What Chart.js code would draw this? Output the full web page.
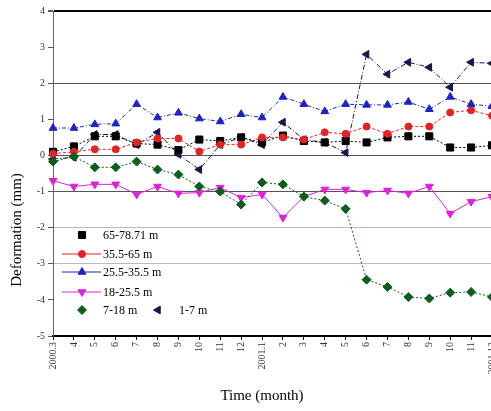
<!DOCTYPE html>
<html>
<head>
<meta charset="utf-8">
<script src="https://cdn.jsdelivr.net/npm/chart.js@4.4.1/dist/chart.umd.min.js"></script>
<style>
  html, body { margin: 0; padding: 0; background: #fff; overflow: hidden; }
  #wrap { width: 491px; height: 411px; overflow: hidden; }
</style>
</head>
<body>
<div id="wrap"><canvas id="chart" width="506" height="411"></canvas></div>
<script>
// months (x categories)
const months = ['2000.3','4','5','6','7','8','9','10','11','12',
  '2001.1','2','3','4','5','6','7','8','9','10','11','2001.12'];

// deformation (mm) per depth range
const d65_78 = [0.1, 0.25, 0.53, 0.53, 0.33, 0.3, 0.15, 0.44, 0.4, 0.5, 0.36,
  0.55, 0.4, 0.36, 0.4, 0.36, 0.5, 0.53, 0.53, 0.22, 0.22, 0.28];
const d35_65 = [0.05, 0.1, 0.17, 0.17, 0.36, 0.47, 0.47, 0.11, 0.3, 0.3, 0.5,
  0.5, 0.44, 0.64, 0.6, 0.8, 0.6, 0.8, 0.8, 1.19, 1.25, 1.1];
const d25_35 = [0.76, 0.76, 0.86, 0.88, 1.42, 1.05, 1.18, 1.02, 0.94, 1.14, 1.05,
  1.62, 1.42, 1.22, 1.42, 1.4, 1.4, 1.48, 1.28, 1.62, 1.42, 1.36];
const d18_25 = [-0.7, -0.86, -0.8, -0.8, -1.08, -0.86, -1.05, -1.03, -0.89, -1.17, -1.08,
  -1.72, -1.14, -0.94, -0.94, -1.03, -0.97, -1.05, -0.86, -1.61, -1.28, -1.14];
const d7_18 = [-0.17, -0.03, -0.33, -0.33, -0.17, -0.39, -0.53, -0.86, -1.0, -1.36, -0.75,
  -0.8, -1.14, -1.25, -1.48, -3.44, -3.64, -3.92, -3.96, -3.8, -3.78, -3.92];
const d1_7 = [-0.1, -0.05, 0.58, 0.58, 0.3, 0.64, 0.03, -0.39, 0.3, 0.5, 0.3,
  0.92, 0.44, 0.36, 0.08, 2.8, 2.25, 2.58, 2.44, 1.89, 2.58, 2.55];

const seriesNames = ['65-78.71 m', '35.5-65 m', '25.5-35.5 m', '18-25.5 m', '7-18 m', '1-7 m'];
const yTicks = [4, 3, 2, 1, 0, -1, -2, -3, -4, -5];

const FONT = "'Liberation Serif', 'DejaVu Serif', serif";

const mk = (label, data, color, style, rot, radius, dash) => ({
  label, data,
  borderColor: color,
  backgroundColor: color,
  pointStyle: style,
  pointRotation: rot,
  pointRadius: radius,
  pointBorderWidth: 1,
  borderWidth: 1,
  borderDash: dash,
  tension: 0
});

const datasets = [
  mk(seriesNames[4], d7_18, '#0b5e1c', 'rectRot', 0, 4.5, [2, 2]),
  mk(seriesNames[3], d18_25, '#e020d8', 'triangle', 180, 4.5, []),
  mk(seriesNames[2], d25_35, '#1f22c8', 'triangle', 0, 4.5, [4, 2, 1, 2]),
  mk(seriesNames[1], d35_65, '#e52222', 'circle', 0, 3.5, [3, 2]),
  mk(seriesNames[0], d65_78, '#000000', 'rect', 0, 5, [2, 2]),
  mk(seriesNames[5], d1_7, '#161650', 'triangle', 270, 4.5, [5, 2, 1, 2])
];

// legend rows (drawn inside the plot, like the original)
const legendItems = [
  { name: seriesNames[0], ds: 4, x: 82, y: 235, line: false },
  { name: seriesNames[1], ds: 3, x: 82, y: 254, line: true },
  { name: seriesNames[2], ds: 2, x: 82, y: 272, line: true },
  { name: seriesNames[3], ds: 1, x: 82, y: 292, line: true },
  { name: seriesNames[4], ds: 0, x: 82, y: 310, line: false },
  { name: seriesNames[5], ds: 5, x: 158, y: 310, line: false }
];

const gridColor = v => {
  if (v === 4) return '#000';
  if (v === 2 || v === 0 || v === -1) return '#555';
  if (v === -2 || v === -3) return '#bbb';
  return 'rgba(0,0,0,0)';
};

const extras = {
  id: 'extras',
  afterDraw(chart) {
    const ctx = chart.ctx;
    ctx.save();
    ctx.fillStyle = '#000';
    ctx.font = '15px ' + FONT;
    ctx.textAlign = 'center';
    ctx.textBaseline = 'middle';
    ctx.save();
    ctx.translate(17, 230);
    ctx.rotate(-Math.PI / 2);
    ctx.fillText('Deformation (mm)', 0, 0);
    ctx.restore();
    ctx.fillText('Time (month)', 262, 396);

    ctx.font = '12px ' + FONT;
    ctx.textAlign = 'left';
    for (const it of legendItems) {
      const ds = chart.data.datasets[it.ds];
      ctx.strokeStyle = ds.borderColor;
      ctx.fillStyle = ds.backgroundColor;
      if (it.line) {
        ctx.lineWidth = 1;
        ctx.beginPath();
        ctx.moveTo(it.x - 20, it.y);
        ctx.lineTo(it.x + 19, it.y);
        ctx.stroke();
      }
      Chart.helpers.drawPoint(ctx, {
        pointStyle: ds.pointStyle, rotation: ds.pointRotation,
        radius: ds.pointRadius, borderWidth: 1
      }, it.x, it.y);
      ctx.fillStyle = '#000';
      ctx.fillText(it.name, it.x + 21, it.y + 1);
    }
    ctx.restore();
  }
};

new Chart(document.getElementById('chart'), {
  type: 'line',
  data: { labels: months, datasets },
  options: {
    responsive: false,
    animation: false,
    layout: { padding: { top: 11, right: 10, left: 0, bottom: 0 } },
    plugins: { legend: { display: false }, tooltip: { enabled: false } },
    scales: {
      x: {
        offset: false,
        afterFit: s => { s.height = 75; },
        grid: { drawOnChartArea: false, color: '#000', tickLength: 4 },
        border: { color: '#000', width: 2 },
        ticks: {
          autoSkip: false, minRotation: 90, maxRotation: 90,
          color: '#333', font: { family: FONT, size: 10 }, padding: 2
        }
      },
      y: {
        min: -5, max: 4,
        afterFit: s => { s.width = 53; },
        afterBuildTicks: s => { s.ticks = yTicks.map(v => ({ value: v })); },
        grid: {
          color: c => gridColor(c.tick.value),
          lineWidth: c => (c.tick.value === 4 ? 2 : 1),
          tickColor: '#555', tickLength: 5
        },
        border: { color: '#666', width: 1 },
        ticks: { color: '#333', font: { family: FONT, size: 10 }, padding: 3 }
      }
    }
  },
  plugins: [extras]
});
</script>
</body>
</html>
